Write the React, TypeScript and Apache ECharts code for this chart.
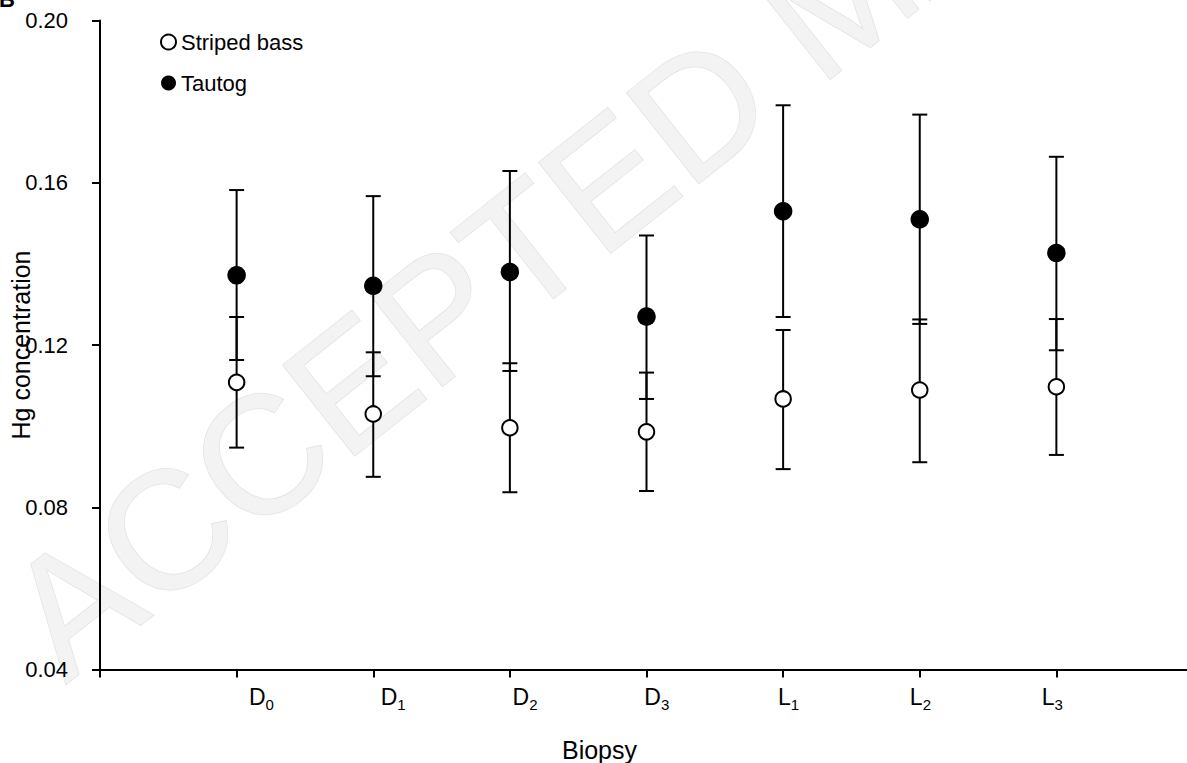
import React, { useEffect, useRef } from "react";
import * as echarts from "echarts";

// ---- data ----
const labelBase = ["D", "D", "D", "D", "L", "L", "L"];
const labelSub = ["0", "1", "2", "3", "1", "2", "3"];
const xPositions = [1, 2, 3, 4, 5, 6, 7];

const stripedMean = [0.1108, 0.103, 0.0996, 0.0986, 0.1067, 0.1089, 0.1097];
const stripedLow = [0.0947, 0.0875, 0.0837, 0.084, 0.0894, 0.0911, 0.0929];
const stripedHigh = [0.1269, 0.1182, 0.1155, 0.1132, 0.1237, 0.1263, 0.1264];

const tautogMean = [0.1372, 0.1346, 0.138, 0.127, 0.153, 0.151, 0.1427];
const tautogLow = [0.1163, 0.1123, 0.1136, 0.1067, 0.1269, 0.1252, 0.1187];
const tautogHigh = [0.1582, 0.1567, 0.1629, 0.147, 0.1791, 0.1768, 0.1664];

const yTicks = [0.04, 0.08, 0.12, 0.16, 0.2];

const FONT = "'Liberation Sans', Arial, Helvetica, sans-serif";

function errorRender(params: any, api: any) {
  const x = api.value(0);
  const lo = api.value(1);
  const hi = api.value(2);
  const pLo = api.coord([x, lo]);
  const pHi = api.coord([x, hi]);
  const hw = 7.5;
  const st = { stroke: "#000", lineWidth: 2 };
  return {
    type: "group",
    children: [
      { type: "line", shape: { x1: pLo[0], y1: pLo[1], x2: pHi[0], y2: pHi[1] }, style: st },
      { type: "line", shape: { x1: pLo[0] - hw, y1: pLo[1], x2: pLo[0] + hw, y2: pLo[1] }, style: st },
      { type: "line", shape: { x1: pHi[0] - hw, y1: pHi[1], x2: pHi[0] + hw, y2: pHi[1] }, style: st },
    ],
  };
}

export default function App() {
  const ref = useRef<HTMLDivElement>(null);

  useEffect(() => {
    if (!ref.current) return;
    const chart = echarts.init(ref.current, null, { renderer: "svg" });

    const stripedErr = xPositions.map((x, i) => [x, stripedLow[i], stripedHigh[i]]);
    const tautogErr = xPositions.map((x, i) => [x, tautogLow[i], tautogHigh[i]]);
    const stripedPts = xPositions.map((x, i) => [x, stripedMean[i]]);
    const tautogPts = xPositions.map((x, i) => [x, tautogMean[i]]);

    const option: any = {
      animation: false,
      backgroundColor: "#fff",
      textStyle: { fontFamily: FONT },
      grid: { left: 100, right: -6, top: 20.5, bottom: 93.5, containLabel: false, outerBoundsMode: "none" },
      graphic: [
        {
          type: "text",
          silent: true,
          z: -10,
          x: 82,
          y: 705,
          rotation: (38.4 * Math.PI) / 180,
          style: {
            text: "ACCEPTED MANUSCRIPT",
            fontFamily: FONT,
            fontSize: 168,
            fill: "#f3f3f3",
            stroke: "#e2e2e2",
            lineWidth: 1.5,
            verticalAlign: "bottom",
            align: "left",
          },
        },
        {
          type: "text",
          silent: true,
          x: -1,
          y: -12,
          style: { text: "B", fontFamily: FONT, fontSize: 22, fontWeight: "bold", fill: "#000" },
        },
      ],
      legend: {
        orient: "vertical",
        left: 155,
        top: 26,
        itemWidth: 15,
        itemHeight: 15,
        itemGap: 19,
        textStyle: { fontSize: 22, fontFamily: FONT, color: "#000" },
        data: [
          { name: "Striped bass", icon: "circle", itemStyle: { color: "#fff", borderColor: "#000", borderWidth: 2 } },
          { name: "Tautog", icon: "circle", itemStyle: { color: "#000", borderColor: "#000", borderWidth: 0 } },
        ],
      },
      xAxis: [
        {
          type: "value",
          min: 0,
          max: 8,
          interval: 1,
          name: "Biopsy",
          nameLocation: "middle",
          nameGap: 68,
          nameMoveOverlap: false,
          nameTextStyle: { fontSize: 25, fontFamily: FONT, color: "#000", padding: [0, 94, 0, 0] },
          axisLine: { show: true, lineStyle: { color: "#000", width: 2 } },
          axisTick: { show: true, length: 8, inside: false, lineStyle: { color: "#000", width: 2 } },
          axisLabel: { show: false },
          splitLine: { show: false },
        },
        {
          type: "value",
          min: -0.2246,
          max: 8.068,
          position: "bottom",
          axisLine: { show: false },
          axisTick: { show: false },
          splitLine: { show: false },
          axisLabel: {
            show: true,
            customValues: xPositions,
            margin: 19,
            formatter: (v: number) => {
              const i = Math.round(v) - 1;
              return "{b|" + labelBase[i] + "}{s|" + labelSub[i] + "}";
            },
            rich: {
              b: { fontSize: 23, fontFamily: FONT, color: "#000", verticalAlign: "bottom", lineHeight: 23, padding: [0, 0, 3, 0] },
              s: { fontSize: 15, fontFamily: FONT, color: "#000", verticalAlign: "bottom", lineHeight: 15 },
            },
          },
        },
      ],
      yAxis: {
        type: "value",
        min: 0.04,
        max: 0.2,
        interval: 0.04,
        name: "Hg concentration",
        nameLocation: "middle",
        nameGap: 67,
        nameMoveOverlap: false,
        nameTextStyle: { fontSize: 25, fontFamily: FONT, color: "#000" },
        axisLine: { show: true, lineStyle: { color: "#000", width: 2 } },
        axisTick: { show: true, length: 8, inside: false, lineStyle: { color: "#000", width: 2 } },
        axisLabel: {
          margin: 32,
          fontSize: 22,
          fontFamily: FONT,
          color: "#000",
          formatter: (v: number) => {
            const m = yTicks.find((t) => Math.abs(t - v) < 1e-9);
            return (m !== undefined ? m : v).toFixed(2);
          },
        },
        splitLine: { show: false },
      },
      series: [
        {
          name: "Tautog err",
          type: "custom",
          xAxisIndex: 0,
          renderItem: errorRender,
          data: tautogErr,
          encode: { x: 0, y: [1, 2] },
          z: 2,
          silent: true,
        },
        {
          name: "Striped err",
          type: "custom",
          xAxisIndex: 0,
          renderItem: errorRender,
          data: stripedErr,
          encode: { x: 0, y: [1, 2] },
          z: 2,
          silent: true,
        },
        {
          name: "Striped bass",
          type: "scatter",
          xAxisIndex: 0,
          data: stripedPts,
          symbol: "circle",
          symbolSize: 15.5,
          itemStyle: { color: "#fff", borderColor: "#000", borderWidth: 2, opacity: 1 },
          z: 5,
        },
        {
          name: "Tautog",
          type: "scatter",
          xAxisIndex: 0,
          data: tautogPts,
          symbol: "circle",
          symbolSize: 18.5,
          itemStyle: { color: "#000", borderWidth: 0, opacity: 1 },
          z: 5,
        },
      ],
    };

    chart.setOption(option);
    return () => chart.dispose();
  }, []);

  return (
    <div style={{ position: "absolute", left: 0, top: 0, width: 1187, height: 763, overflow: "hidden", background: "#fff" }}>
      <div ref={ref} style={{ width: 1187, height: 763 }} />
    </div>
  );
}
